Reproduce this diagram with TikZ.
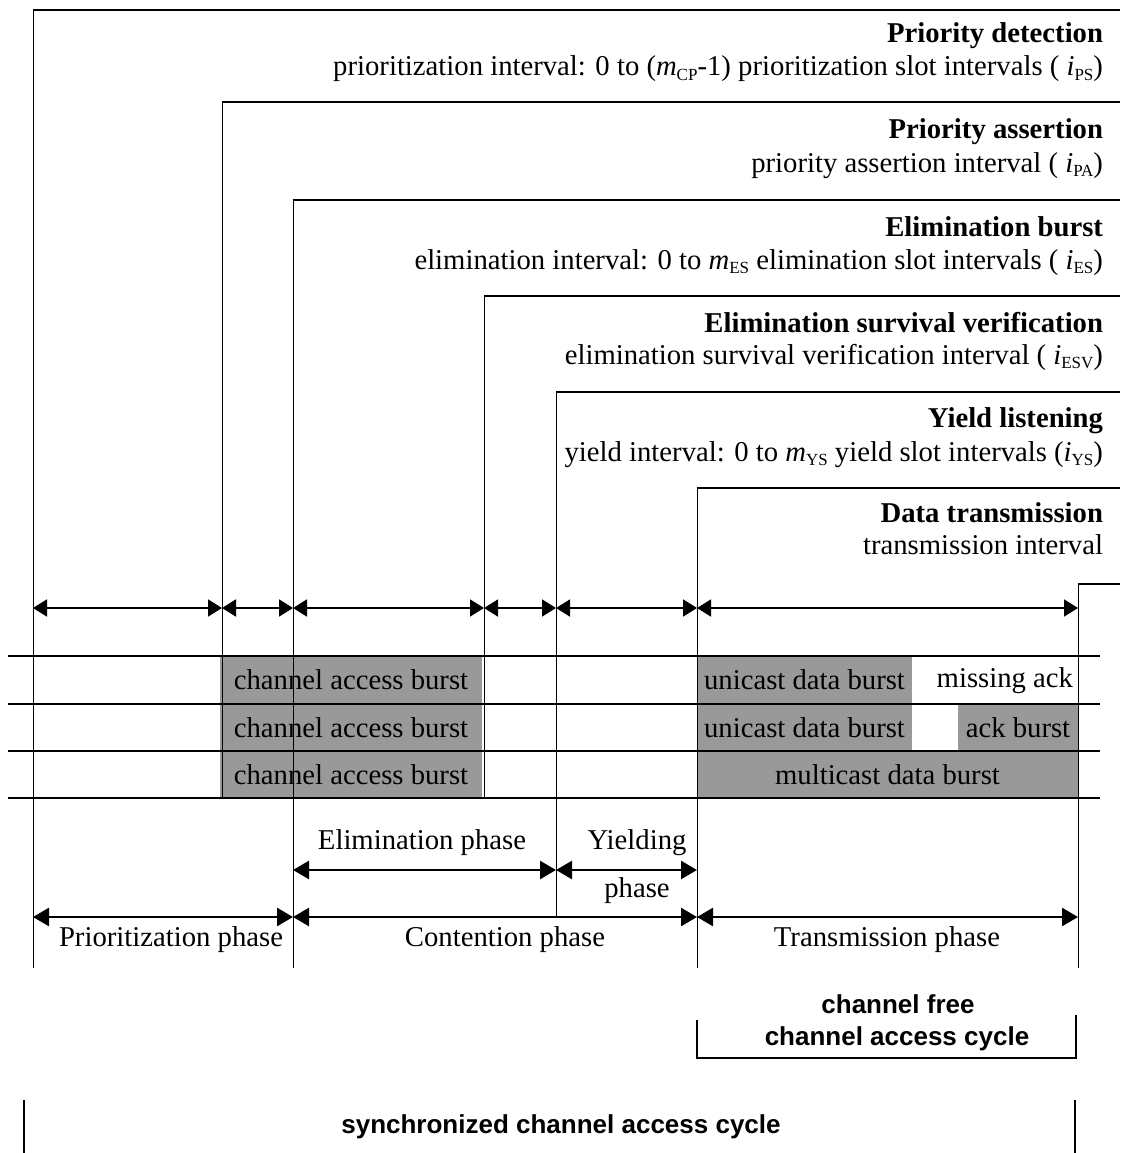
\documentclass[tikz,border=0pt]{standalone}
\usepackage{fontspec}
\setmainfont{Liberation Serif}
\setsansfont{Liberation Sans}
\usetikzlibrary{arrows.meta}
% lowered small index letters, as in i_PS
\newcommand\lowix[1]{\raisebox{-0.35ex}{\fontsize{17}{17}\selectfont #1}}
\begin{document}
\begin{tikzpicture}[x=1pt,y=-1pt,
  every node/.style={inner sep=0pt, outer sep=0pt},
  txt/.style={font=\fontsize{28.7}{34}\selectfont},
  ttl/.style={font=\fontsize{28.7}{34}\selectfont\bfseries, anchor=base east},
  subttl/.style={txt, anchor=base east},
  frame/.style={line width=1pt},
  topline/.style={line width=2pt},
  dimarrow/.style={{Triangle[length=14pt,width=17pt]}-{Triangle[length=14pt,width=17pt]}, line width=1.8pt},
  phasearrow/.style={{Triangle[length=16pt,width=18pt]}-{Triangle[length=16pt,width=18pt]}, line width=2.6pt},
  burst/.style={txt, fill=black!40, anchor=north west},
  chan/.style={line width=2pt},
  sanslbl/.style={font=\sffamily\bfseries\fontsize{26}{30}\selectfont},
  bar/.style={line width=2pt}]

\useasboundingbox (0,0) rectangle (1120,1153);

% bursts (drawn first so frame lines lie on top)
\node[burst, minimum width=262pt, minimum height=48pt] (cab1) at (220,656) {channel access burst};
\node[burst, minimum width=262pt, minimum height=47pt] (cab2) at (220,704) {channel access burst};
\node[burst, minimum width=262pt, minimum height=47pt] (cab3) at (220,751) {channel access burst};
\node[burst, minimum width=215pt, minimum height=48pt] (udb1) at (697,656) {unicast data burst};
\node[burst, minimum width=215pt, minimum height=47pt] (udb2) at (697,704) {unicast data burst};
\node[burst, minimum width=120pt, minimum height=47pt] (ackb) at (958,704) {ack burst};
\node[burst, minimum width=381pt, minimum height=47pt] (mdb) at (697,751) {multicast data burst};
\node[txt, anchor=east] (mack) at (1073,681) {missing ack};

% interval brackets: vertical time marks with their top rules
\foreach \n/\x/\y/\yend in {a/33/10/968, b/222/102/798, c/293/200/968, d/484/296/798,
                            e/556/392/917, f/697/488/968, g/1078/584/968}{
  \coordinate (\n-top) at (\x,\y);
  \coordinate (\n-bot) at (\x,\yend);
  \coordinate (\n-edge) at (1120,\y);
  \coordinate (\n-arr) at (\x,608);
  \draw[frame] (\n-bot) -- (\n-top);
  \draw[topline] ([xshift=-0.5pt]\n-top) -- (\n-edge);
}

% interval titles
\node[ttl] (t1) at (1103,43) {Priority detection};
\node[subttl] (s1) at (1103,76) {prioritization interval: 0 to (\textit{m}\lowix{CP}-1) prioritization slot intervals ( \textit{i}\lowix{PS})};
\node[ttl] (t2) at (1103,139) {Priority assertion};
\node[subttl] (s2) at (1103,172) {priority assertion interval ( \textit{i}\lowix{PA})};
\node[ttl] (t3) at (1103,236) {Elimination burst};
\node[subttl] (s3) at (1103,269) {elimination interval: 0 to \textit{m}\lowix{ES} elimination slot intervals ( \textit{i}\lowix{ES})};
\node[ttl] (t4) at (1103,332) {Elimination survival verification};
\node[subttl] (s4) at (1103,364) {elimination survival verification interval ( \textit{i}\lowix{ESV})};
\node[ttl] (t5) at (1103,427) {Yield listening};
\node[subttl] (s5) at (1103,461) {yield interval: 0 to \textit{m}\lowix{YS} yield slot intervals (\textit{i}\lowix{YS})};
\node[ttl] (t6) at (1103,522) {Data transmission};
\node[subttl] (s6) at (1103,554) {transmission interval};

% interval dimension arrows
\draw[dimarrow] (a-arr) -- (b-arr);
\draw[dimarrow] (b-arr) -- (c-arr);
\draw[dimarrow] (c-arr) -- (d-arr);
\draw[dimarrow] (d-arr) -- (e-arr);
\draw[dimarrow] (e-arr) -- (f-arr);
\draw[dimarrow] (f-arr) -- (g-arr);

% channel lines
\foreach \i/\y in {1/656, 2/704, 3/751, 4/798}{
  \coordinate (ch\i-w) at (8,\y);
  \coordinate (ch\i-e) at (1100,\y);
  \draw[chan] (ch\i-w) -- (ch\i-e);
}

% phases
\coordinate (elimL) at (293,870);
\coordinate (elimR) at (556,870);
\coordinate (yieldR) at (697,870);
\draw[phasearrow] (elimL) -- (elimR);
\draw[phasearrow] (elimR) -- (yieldR);
\node[txt, anchor=base] (elimlbl) at (422,849) {Elimination phase};
\node[txt, anchor=base] (yieldlbl1) at (637,849) {Yielding};
\node[txt, anchor=base] (yieldlbl2) at (637,897) {phase};

\coordinate (prioL) at (33,917);
\coordinate (contL) at (293,917);
\coordinate (tranL) at (697,917);
\coordinate (tranR) at (1078,917);
\draw[phasearrow] (prioL) -- (contL);
\draw[phasearrow] (contL) -- (tranL);
\draw[phasearrow] (tranL) -- (tranR);
\node[txt, anchor=base] (priolbl) at (171,946) {Prioritization phase};
\node[txt, anchor=base] (contlbl) at (505,946) {Contention phase};
\node[txt, anchor=base] (tranlbl) at (887,946) {Transmission phase};

% cycles
\node[sanslbl, anchor=base] (cf1) at (898,1013) {channel free};
\node[sanslbl, anchor=base] (cf2) at (897,1045) {channel access cycle};
\coordinate (cfa) at (697,1020);
\coordinate (cfb) at (697,1058);
\coordinate (cfc) at (1076,1058);
\coordinate (cfd) at (1076,1015);
\draw[bar] (cfa) -- (cfb) -- (cfc) -- (cfd);

\node[sanslbl, anchor=base] (sync) at (561,1133) {synchronized channel access cycle};
\coordinate (sa) at (24,1100);
\coordinate (sb) at (24,1153);
\coordinate (sc) at (1075,1100);
\coordinate (sd) at (1075,1153);
\draw[bar] (sa) -- (sb);
\draw[bar] (sc) -- (sd);
\end{tikzpicture}
\end{document}
